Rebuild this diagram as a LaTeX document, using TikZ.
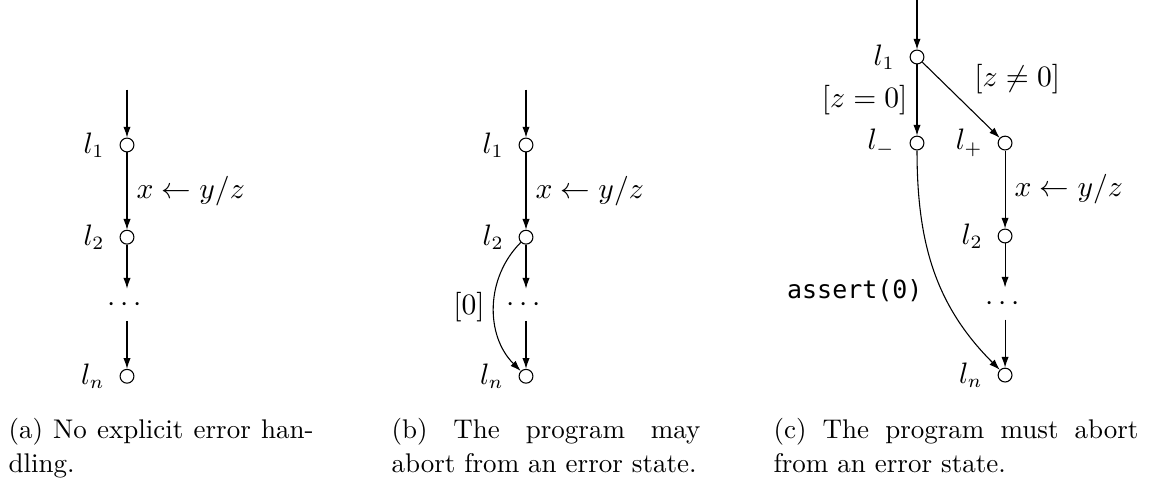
\documentclass[tikz,border=0pt]{standalone}
\usepackage{amsmath,amssymb}
\usepackage{fontspec}
\newfontfamily\codefont[Scale=0.88]{DejaVu Sans Mono}
\usepackage{tikz}
\usetikzlibrary{arrows.meta,positioning}

\begin{document}
\begin{tikzpicture}[
x=0.01302cm,y=-0.01302cm,
font=\fontsize{10.5}{12.5}\selectfont,
loc/.style={circle,draw,minimum size=0.18cm,inner sep=0pt},
arr/.style={-{Latex[length=1.4mm,width=0.95mm]}},
capt/.style={anchor=base west,align=justify,inner sep=0pt,font=\fontsize{10}{12.8}\selectfont},
label distance=2pt,
on grid
]
\useasboundingbox (0,0) rectangle (1155,485);

% (a) no error handling
\node[loc,label={[name=la1]left:$l_1$}] (a1) at (127,145) {};
\coordinate[above=0.72cm of a1] (a0);
\node[loc,below=1.2cm of a1,label={[name=la2]left:$l_2$}] (a2) {};
\node[below=0.88cm of a2] (ad) {$\cdots$};
\node[loc,below=0.93cm of ad,label={[name=lan]left:$l_n$}] (an) {};
\draw[arr] (a0) -- (a1);
\draw[arr] (a1) -- node[right]{$x \leftarrow y/z$} (a2);
\draw[arr] (a2) -- (ad);
\draw[arr] (ad) -- (an);
\node[capt,text width=3.97cm] (capa) at (8,438) {(a) No explicit error han-\linebreak dling.};

% (b) may abort
\node[loc,label={[name=lb1]left:$l_1$}] (b1) at (526,145) {};
\coordinate[above=0.72cm of b1] (b0);
\node[loc,below=1.2cm of b1,label={[name=lb2]left:$l_2$}] (b2) {};
\node[below=0.88cm of b2] (bd) {$\cdots$};
\node[loc,below=0.93cm of bd,label={[name=lbn]left:$l_n$}] (bn) {};
\draw[arr] (b0) -- (b1);
\draw[arr] (b1) -- node[right]{$x \leftarrow y/z$} (b2);
\draw[arr] (b2) -- (bd);
\draw[arr] (bd) -- (bn);
\draw[arr] (b2) to[bend right=45] node[left]{$[0]$} (bn);
\node[capt,text width=4.02cm] (capb) at (391,438) {(b) The program may\linebreak abort from an error state.};

% (c) must abort
\node[loc,label={[name=lc1]left:$l_1$}] (c1) at (917,57) {};
\coordinate[above=0.75cm of c1] (c0);
\node[loc,below=1.12cm of c1,label={[name=lcm]left:$l_-$}] (cm) {};
\node[loc,right=1.146cm of cm,label={[name=lcp]left:$l_+$}] (cp) {};
\node[loc,below=1.21cm of cp,label={[name=lc2]left:$l_2$}] (c2) {};
\node[below=0.88cm of c2] (cd) {$\cdots$};
\node[loc,below=0.93cm of cd,label={[name=lcn]left:$l_n$}] (cn) {};
\draw[arr] (c0) -- (c1);
\draw[arr] (c1) -- node[left]{$[z=0]$} (cm);
\draw[arr] (c1) -- node[pos=0.55,above right]{$[z\neq 0]$} (cp);
\draw[arr] (cp) -- node[right]{$x \leftarrow y/z$} (c2);
\draw[arr] (c2) -- (cd);
\draw[arr] (cd) -- (cn);
\draw[arr] (cm) to[out=-90,in=135] node[pos=0.6,left=1.4mm]{\codefont assert(0)} (cn);
\node[capt,text width=4.75cm] (capc) at (773,438) {(c) The program must abort\linebreak from an error state.};
\end{tikzpicture}
\end{document}
